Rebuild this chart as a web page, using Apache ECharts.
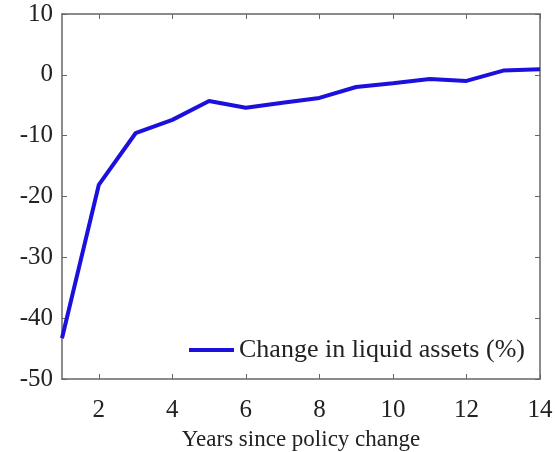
<!DOCTYPE html>
<html>
<head>
<meta charset="utf-8">
<script src="https://cdn.jsdelivr.net/npm/echarts@6/dist/echarts.min.js"></script>
<style>html,body{margin:0;padding:0;background:#fff;}#c{width:555px;height:452px;}</style>
</head>
<body>
<div id="c"></div>
<script>
const years = [1,2,3,4,5,6,7,8,9,10,11,12,13,14];
const liquidChange = [-43.3,-18.1,-9.6,-7.4,-4.3,-5.4,-4.6,-3.8,-2.0,-1.4,-0.7,-1.0,0.7,0.9];
const xTicks = [2,4,6,8,10,12,14];
const seriesName = 'Change in liquid assets (%)';
const xTitle = 'Years since policy change';

const font = 'Liberation Serif';
const axisCol = '#666';
const chart = echarts.init(document.getElementById('c'));
const data = years.map((y,i)=>[y, liquidChange[i]]);
chart.setOption({
  animation:false,
  grid:{left:62,right:15,top:14,bottom:73,containLabel:false,outerBoundsMode:'none'},
  legend:{
    data:[{name:seriesName, icon:'rect'}],
    left:184, top:332, itemWidth:45, itemHeight:4, itemGap:3,
    textStyle:{fontFamily:font,fontSize:26,color:'#222'}
  },
  xAxis:[{
    type:'value', min:1, max:14, position:'bottom',
    name:xTitle, nameLocation:'middle', nameGap:49,
    nameTextStyle:{fontFamily:font,fontSize:23,color:'#222'},
    axisLine:{onZero:false,lineStyle:{color:axisCol,width:1.5}},
    axisTick:{inside:true,length:5,customValues:xTicks,lineStyle:{color:axisCol}},
    axisLabel:{customValues:xTicks,fontFamily:font,fontSize:25,color:'#222',margin:19},
    splitLine:{show:false}
  },{
    type:'value', min:1, max:14, position:'top',
    axisLine:{onZero:false,lineStyle:{color:axisCol,width:1.5}},
    axisTick:{inside:true,length:5,customValues:xTicks,lineStyle:{color:axisCol}},
    axisLabel:{show:false},
    splitLine:{show:false}
  }],
  yAxis:[{
    type:'value', min:-50, max:10, interval:10, position:'left',
    axisLine:{show:true,onZero:false,lineStyle:{color:axisCol,width:1.5}},
    axisTick:{show:true,inside:true,length:5,lineStyle:{color:axisCol}},
    axisLabel:{fontFamily:font,fontSize:25,color:'#222',margin:9},
    splitLine:{show:false}
  },{
    type:'value', min:-50, max:10, interval:10, position:'right',
    axisLine:{show:true,onZero:false,lineStyle:{color:axisCol,width:1.5}},
    axisTick:{show:true,inside:true,length:5,lineStyle:{color:axisCol}},
    axisLabel:{show:false},
    splitLine:{show:false}
  }],
  series:[{
    name:seriesName, type:'line', data:data, showSymbol:false, symbol:'none',
    lineStyle:{color:'#1c10dc',width:4}, itemStyle:{color:'#1c10dc'}
  }]
});
</script>
</body>
</html>
